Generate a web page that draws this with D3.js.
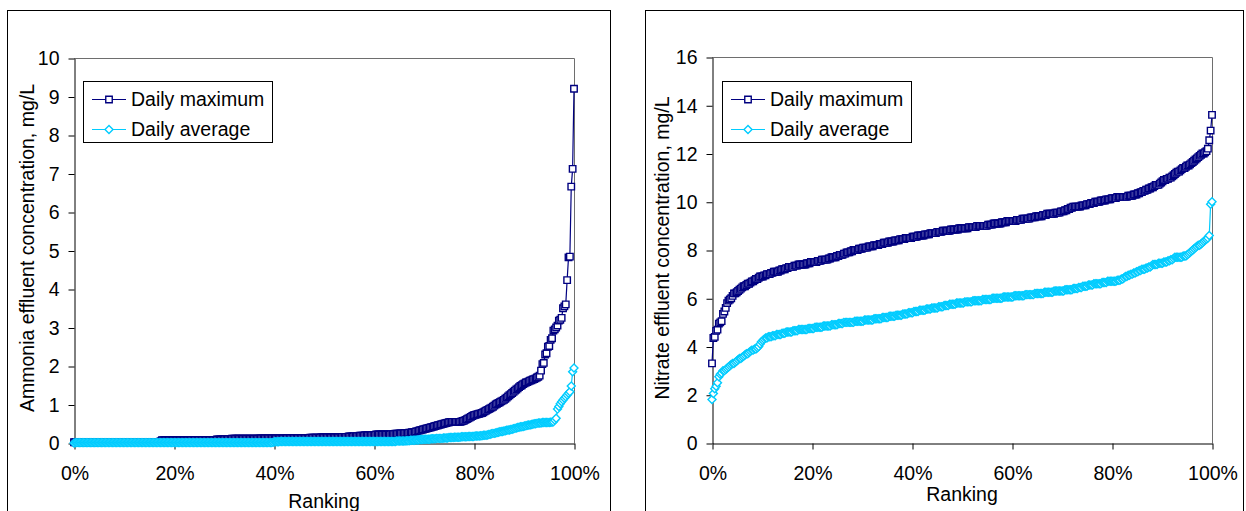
<!DOCTYPE html>
<html>
<head>
<meta charset="utf-8">
<script src="https://cdn.jsdelivr.net/npm/d3@7"></script>
<style>
  body { margin: 0; background: #fff; }
  svg { display: block; }
  text { font-family: "Liberation Sans", Arial, Helvetica, sans-serif; fill: #000; }
</style>
</head>
<body>
<svg id="chart" width="1246" height="511"></svg>
<script>
// Daily values sorted ascending (one per day, 365 days); ranking = position / (n - 1)
const ammoniaMax = [
  0.02,0.02,0.02,0.02,0.02,0.02,0.02,0.02,0.02,0.02,
  0.02,0.02,0.02,0.02,0.02,0.02,0.02,0.02,0.02,0.02,
  0.03,0.03,0.03,0.03,0.03,0.03,0.03,0.03,0.03,0.03,
  0.03,0.03,0.03,0.03,0.03,0.03,0.03,0.03,0.03,0.03,
  0.03,0.03,0.03,0.03,0.03,0.03,0.03,0.03,0.03,0.03,
  0.03,0.03,0.03,0.03,0.03,0.03,0.03,0.03,0.03,0.03,
  0.03,0.03,0.03,0.05,0.07,0.07,0.07,0.07,0.07,0.07,
  0.07,0.07,0.07,0.07,0.07,0.07,0.07,0.07,0.07,0.07,
  0.07,0.07,0.07,0.07,0.07,0.08,0.08,0.08,0.08,0.08,
  0.08,0.08,0.08,0.08,0.08,0.08,0.08,0.08,0.08,0.08,
  0.08,0.08,0.08,0.08,0.09,0.09,0.09,0.09,0.09,0.09,
  0.10,0.10,0.10,0.10,0.10,0.11,0.11,0.11,0.11,0.11,
  0.11,0.11,0.11,0.11,0.11,0.11,0.11,0.11,0.11,0.11,
  0.11,0.11,0.11,0.11,0.11,0.12,0.12,0.12,0.12,0.12,
  0.12,0.12,0.12,0.12,0.12,0.12,0.12,0.12,0.12,0.12,
  0.12,0.12,0.12,0.12,0.12,0.13,0.13,0.13,0.13,0.13,
  0.13,0.13,0.13,0.13,0.13,0.13,0.13,0.13,0.13,0.13,
  0.13,0.13,0.14,0.14,0.14,0.14,0.14,0.14,0.14,0.14,
  0.15,0.15,0.15,0.15,0.15,0.15,0.15,0.15,0.15,0.15,
  0.15,0.15,0.15,0.15,0.16,0.16,0.16,0.16,0.16,0.16,
  0.17,0.17,0.17,0.17,0.18,0.18,0.18,0.18,0.19,0.19,
  0.19,0.19,0.20,0.20,0.20,0.20,0.20,0.21,0.21,0.21,
  0.22,0.22,0.22,0.22,0.22,0.22,0.22,0.22,0.22,0.22,
  0.22,0.23,0.23,0.23,0.24,0.24,0.24,0.25,0.25,0.25,
  0.25,0.26,0.26,0.26,0.27,0.27,0.28,0.28,0.29,0.30,
  0.31,0.32,0.33,0.34,0.35,0.36,0.37,0.38,0.39,0.40,
  0.41,0.42,0.43,0.44,0.45,0.46,0.47,0.48,0.49,0.50,
  0.51,0.52,0.53,0.54,0.55,0.55,0.55,0.55,0.55,0.55,
  0.55,0.55,0.56,0.57,0.58,0.60,0.62,0.64,0.66,0.68,
  0.70,0.72,0.73,0.74,0.75,0.76,0.77,0.78,0.80,0.82,
  0.84,0.86,0.88,0.90,0.92,0.94,0.97,1.00,1.02,1.04,
  1.06,1.08,1.10,1.12,1.15,1.18,1.21,1.24,1.27,1.30,
  1.33,1.36,1.39,1.42,1.45,1.48,1.50,1.53,1.55,1.57,
  1.58,1.60,1.62,1.63,1.65,1.66,1.68,1.70,1.72,1.75,
  1.88,2.05,2.08,2.30,2.33,2.50,2.52,2.68,2.72,2.92,
  2.95,3.00,3.05,3.18,3.20,3.25,3.50,3.55,3.60,4.23,
  4.82,4.84,6.66,7.12,9.20
];

const ammoniaAvg = [
  0.00,0.01,0.01,0.01,0.01,0.01,0.01,0.01,0.01,0.01,
  0.01,0.01,0.01,0.01,0.01,0.01,0.01,0.01,0.01,0.01,
  0.01,0.01,0.01,0.01,0.01,0.01,0.01,0.01,0.01,0.01,
  0.01,0.01,0.01,0.01,0.01,0.01,0.01,0.01,0.01,0.01,
  0.01,0.01,0.01,0.01,0.01,0.01,0.01,0.01,0.01,0.01,
  0.01,0.01,0.01,0.01,0.01,0.01,0.01,0.01,0.01,0.01,
  0.01,0.01,0.01,0.01,0.01,0.01,0.01,0.01,0.01,0.01,
  0.01,0.01,0.01,0.01,0.01,0.01,0.01,0.01,0.01,0.01,
  0.01,0.01,0.01,0.01,0.01,0.01,0.01,0.01,0.01,0.01,
  0.01,0.01,0.01,0.01,0.01,0.01,0.01,0.01,0.01,0.01,
  0.01,0.01,0.01,0.01,0.01,0.01,0.01,0.01,0.01,0.01,
  0.01,0.01,0.01,0.01,0.01,0.01,0.01,0.01,0.01,0.01,
  0.01,0.01,0.01,0.01,0.01,0.01,0.01,0.01,0.01,0.01,
  0.01,0.01,0.01,0.01,0.01,0.01,0.01,0.01,0.01,0.01,
  0.01,0.01,0.01,0.01,0.01,0.02,0.03,0.03,0.03,0.03,
  0.04,0.04,0.04,0.04,0.04,0.04,0.04,0.04,0.04,0.04,
  0.04,0.04,0.04,0.04,0.04,0.04,0.04,0.04,0.04,0.04,
  0.04,0.04,0.04,0.04,0.04,0.04,0.04,0.04,0.04,0.04,
  0.04,0.04,0.04,0.04,0.04,0.04,0.04,0.04,0.04,0.04,
  0.04,0.04,0.04,0.04,0.04,0.04,0.04,0.04,0.04,0.04,
  0.04,0.04,0.04,0.04,0.04,0.04,0.04,0.04,0.04,0.04,
  0.04,0.04,0.04,0.04,0.04,0.04,0.04,0.04,0.04,0.04,
  0.04,0.04,0.04,0.04,0.04,0.04,0.04,0.04,0.04,0.04,
  0.04,0.04,0.04,0.04,0.04,0.05,0.05,0.05,0.05,0.05,
  0.05,0.05,0.06,0.06,0.06,0.07,0.07,0.07,0.07,0.08,
  0.08,0.08,0.09,0.09,0.09,0.10,0.10,0.10,0.10,0.10,
  0.11,0.11,0.11,0.11,0.12,0.12,0.12,0.12,0.12,0.13,
  0.13,0.13,0.13,0.14,0.14,0.14,0.14,0.15,0.15,0.15,
  0.15,0.15,0.16,0.16,0.16,0.16,0.16,0.17,0.17,0.17,
  0.17,0.17,0.18,0.18,0.18,0.18,0.19,0.19,0.20,0.20,
  0.20,0.21,0.22,0.23,0.24,0.25,0.25,0.26,0.27,0.28,
  0.29,0.30,0.30,0.31,0.32,0.33,0.34,0.34,0.35,0.36,
  0.37,0.38,0.39,0.40,0.41,0.42,0.42,0.43,0.44,0.45,
  0.46,0.47,0.47,0.48,0.49,0.50,0.50,0.51,0.52,0.52,
  0.52,0.53,0.53,0.53,0.53,0.53,0.53,0.54,0.54,0.55,
  0.60,0.64,0.88,0.95,1.02,1.07,1.12,1.16,1.20,1.25,
  1.29,1.33,1.48,1.85,1.95
];

const nitrateMax = [
  3.30,4.35,4.40,4.65,4.70,4.95,5.00,5.05,5.35,5.45,
  5.60,5.80,5.90,5.95,6.00,6.10,6.20,6.20,6.25,6.30,
  6.35,6.40,6.45,6.50,6.50,6.55,6.60,6.60,6.65,6.70,
  6.70,6.75,6.80,6.80,6.85,6.90,6.90,6.90,6.95,6.95,
  7.00,7.00,7.00,7.05,7.05,7.10,7.10,7.10,7.10,7.15,
  7.15,7.20,7.20,7.20,7.25,7.25,7.30,7.30,7.30,7.30,
  7.35,7.35,7.35,7.40,7.40,7.40,7.40,7.40,7.40,7.45,
  7.45,7.45,7.50,7.50,7.50,7.50,7.50,7.55,7.55,7.55,
  7.60,7.60,7.60,7.60,7.60,7.65,7.65,7.70,7.70,7.70,
  7.70,7.75,7.75,7.80,7.80,7.80,7.85,7.85,7.90,7.90,
  7.90,7.95,7.95,8.00,8.00,8.00,8.00,8.05,8.05,8.05,
  8.10,8.10,8.10,8.10,8.15,8.15,8.15,8.15,8.20,8.20,
  8.20,8.20,8.25,8.25,8.25,8.30,8.30,8.30,8.30,8.35,
  8.35,8.35,8.35,8.40,8.40,8.40,8.40,8.45,8.45,8.45,
  8.45,8.50,8.50,8.50,8.50,8.50,8.55,8.55,8.55,8.55,
  8.60,8.60,8.60,8.60,8.60,8.65,8.65,8.65,8.65,8.70,
  8.70,8.70,8.70,8.70,8.75,8.75,8.75,8.75,8.80,8.80,
  8.80,8.80,8.80,8.80,8.85,8.85,8.85,8.85,8.85,8.85,
  8.90,8.90,8.90,8.90,8.90,8.90,8.90,8.95,8.95,8.95,
  8.95,8.95,8.95,9.00,9.00,9.00,9.00,9.00,9.00,9.00,
  9.00,9.05,9.05,9.05,9.05,9.10,9.10,9.10,9.10,9.10,
  9.10,9.15,9.15,9.15,9.15,9.20,9.20,9.20,9.20,9.20,
  9.20,9.20,9.25,9.25,9.25,9.25,9.30,9.30,9.30,9.30,
  9.30,9.30,9.35,9.35,9.35,9.35,9.40,9.40,9.40,9.40,
  9.40,9.45,9.45,9.45,9.50,9.50,9.50,9.50,9.50,9.50,
  9.55,9.55,9.55,9.55,9.60,9.60,9.60,9.65,9.65,9.70,
  9.70,9.75,9.75,9.80,9.80,9.80,9.80,9.80,9.80,9.85,
  9.85,9.85,9.85,9.90,9.90,9.90,9.95,9.95,9.95,10.00,
  10.00,10.00,10.00,10.05,10.05,10.05,10.05,10.10,10.10,10.10,
  10.10,10.15,10.15,10.15,10.15,10.20,10.20,10.20,10.20,10.20,
  10.20,10.20,10.20,10.25,10.25,10.25,10.25,10.30,10.30,10.30,
  10.35,10.35,10.40,10.40,10.45,10.45,10.50,10.50,10.55,10.55,
  10.60,10.60,10.65,10.70,10.70,10.70,10.75,10.80,10.85,10.90,
  10.90,10.95,10.95,11.00,11.00,11.05,11.10,11.15,11.20,11.25,
  11.25,11.30,11.35,11.40,11.40,11.45,11.50,11.50,11.55,11.60,
  11.65,11.70,11.75,11.80,11.85,11.90,11.95,12.00,12.00,12.05,
  12.10,12.20,12.55,12.95,13.60
];

const nitrateAvg = [
  1.80,2.05,2.25,2.35,2.50,2.75,2.85,2.90,3.00,3.00,
  3.05,3.10,3.15,3.20,3.25,3.30,3.30,3.35,3.40,3.45,
  3.50,3.50,3.55,3.60,3.65,3.70,3.70,3.75,3.80,3.85,
  3.85,3.90,3.90,3.95,4.00,4.10,4.20,4.25,4.30,4.35,
  4.35,4.40,4.40,4.40,4.45,4.45,4.45,4.50,4.50,4.50,
  4.50,4.55,4.55,4.55,4.60,4.60,4.60,4.60,4.60,4.65,
  4.65,4.65,4.65,4.70,4.70,4.70,4.70,4.70,4.70,4.70,
  4.75,4.75,4.75,4.75,4.75,4.80,4.80,4.80,4.80,4.80,
  4.80,4.85,4.85,4.85,4.85,4.85,4.85,4.90,4.90,4.90,
  4.90,4.90,4.95,4.95,4.95,4.95,5.00,5.00,5.00,5.00,
  5.00,5.00,5.00,5.00,5.05,5.05,5.05,5.05,5.05,5.05,
  5.05,5.10,5.10,5.10,5.10,5.10,5.10,5.10,5.15,5.15,
  5.15,5.15,5.15,5.15,5.20,5.20,5.20,5.20,5.20,5.25,
  5.25,5.25,5.25,5.25,5.30,5.30,5.30,5.30,5.30,5.35,
  5.35,5.35,5.35,5.40,5.40,5.40,5.40,5.45,5.45,5.45,
  5.45,5.50,5.50,5.50,5.50,5.50,5.55,5.55,5.55,5.55,
  5.60,5.60,5.60,5.60,5.60,5.65,5.65,5.65,5.65,5.70,
  5.70,5.70,5.70,5.75,5.75,5.75,5.75,5.75,5.80,5.80,
  5.80,5.80,5.80,5.80,5.85,5.85,5.85,5.85,5.85,5.85,
  5.90,5.90,5.90,5.90,5.90,5.90,5.90,5.95,5.95,5.95,
  5.95,5.95,5.95,5.95,6.00,6.00,6.00,6.00,6.00,6.00,
  6.00,6.00,6.05,6.05,6.05,6.05,6.05,6.05,6.05,6.05,
  6.10,6.10,6.10,6.10,6.10,6.10,6.10,6.10,6.15,6.15,
  6.15,6.15,6.15,6.15,6.15,6.20,6.20,6.20,6.20,6.20,
  6.20,6.20,6.25,6.25,6.25,6.25,6.25,6.25,6.25,6.30,
  6.30,6.30,6.30,6.30,6.30,6.30,6.30,6.35,6.35,6.35,
  6.35,6.35,6.35,6.40,6.40,6.40,6.40,6.45,6.45,6.45,
  6.50,6.50,6.50,6.50,6.55,6.55,6.55,6.55,6.60,6.60,
  6.60,6.60,6.60,6.60,6.65,6.65,6.65,6.65,6.70,6.70,
  6.70,6.70,6.70,6.70,6.70,6.75,6.75,6.75,6.80,6.80,
  6.85,6.90,6.90,6.95,6.95,7.00,7.00,7.05,7.05,7.10,
  7.10,7.15,7.15,7.20,7.20,7.20,7.25,7.25,7.30,7.30,
  7.35,7.40,7.40,7.40,7.40,7.45,7.45,7.45,7.45,7.50,
  7.50,7.50,7.55,7.55,7.60,7.60,7.65,7.70,7.70,7.70,
  7.70,7.70,7.70,7.75,7.75,7.75,7.80,7.85,7.90,7.95,
  8.00,8.05,8.10,8.15,8.20,8.20,8.25,8.30,8.35,8.40,
  8.45,8.50,8.60,9.90,10.00
];

const seriesNames = ["Daily maximum", "Daily average"];
const rankTicks = [0, 0.2, 0.4, 0.6, 0.8, 1];
const ammoniaTicks = [0, 1, 2, 3, 4, 5, 6, 7, 8, 9, 10];
const nitrateTicks = [0, 2, 4, 6, 8, 10, 12, 14, 16];
const ammoniaTitle = "Ammonia effluent concentration, mg/L";
const nitrateTitle = "Nitrate effluent concentration, mg/L";
const xTitle = "Ranking";

const COLORS = ["#000080", "#00CCFF"];
const FONT = 19.5;

const svg = d3.select("#chart");

// square for the maximum, diamond (square turned 45°) for the average
const markerPath = [d3.symbol(d3.symbolSquare, 42)(), d3.symbol(d3.symbolSquare, 32)()];
const markerRotate = [0, 45];

function drawMarker(sel, k) {
  sel.append("path")
    .attr("d", markerPath[k])
    .attr("fill", "#fff")
    .attr("stroke", COLORS[k])
    .attr("stroke-width", 1.4);
}

function drawPanel(cfg) {
  const g = svg.append("g");

  // outer chart area border
  g.append("rect")
    .attr("x", cfg.frame[0] + 0.5).attr("y", cfg.frame[1] + 0.5)
    .attr("width", cfg.frame[2]).attr("height", cfg.frame[3])
    .attr("fill", "#fff").attr("stroke", "#000").attr("stroke-width", 1);

  const x = d3.scaleLinear().domain([0, 1]).range([cfg.left, cfg.right]);
  const y = d3.scaleLinear().domain([0, cfg.yMax]).range([cfg.bottom, cfg.top]);

  // plot area border (top and right)
  g.append("path")
    .attr("d", `M${cfg.left},${cfg.top + 0.5}H${cfg.right + 0.5}V${cfg.bottom}`)
    .attr("fill", "none").attr("stroke", "#6e6e6e").attr("stroke-width", 1);

  // y axis
  const yAxis = g.append("g")
    .attr("transform", `translate(${cfg.left + 0.5},0.5)`)
    .call(d3.axisLeft(y).tickValues(cfg.yTicks).tickFormat(d3.format("d"))
      .tickSize(6).tickSizeOuter(0).tickPadding(9));
  // x axis
  const xAxis = g.append("g")
    .attr("transform", `translate(0.5,${cfg.bottom + 0.5})`)
    .call(d3.axisBottom(x).tickValues(rankTicks).tickFormat(d3.format(".0%"))
      .tickSize(6).tickSizeOuter(0).tickPadding(17));
  [yAxis, xAxis].forEach(a => {
    a.attr("font-family", null).attr("font-size", null);
    a.selectAll("path, line").attr("stroke", "#000").attr("stroke-width", 1);
    a.selectAll("text").style("font-size", FONT + "px").attr("fill", "#000");
  });

  // axis titles
  g.append("text")
    .attr("transform", `translate(${cfg.yTitleX},${cfg.yTitleY}) rotate(-90)`)
    .attr("text-anchor", "middle").attr("dy", "0.35em")
    .style("font-size", FONT + "px")
    .text(cfg.yTitle);
  g.append("text")
    .attr("x", (cfg.left + cfg.right) / 2).attr("y", cfg.xTitleY)
    .attr("text-anchor", "middle")
    .style("font-size", FONT + "px")
    .text(xTitle);

  // series: connecting line, then one marker per day
  cfg.series.forEach((vals, k) => {
    const n = vals.length;
    g.append("path")
      .datum(vals)
      .attr("d", d3.line().x((d, i) => x(i / (n - 1))).y(d => y(d)))
      .attr("fill", "none").attr("stroke", COLORS[k]).attr("stroke-width", 1.2);
    g.append("g").selectAll("g")
      .data(vals)
      .join("g")
      .attr("transform", (d, i) => `translate(${x(i / (n - 1))},${y(d)}) rotate(${markerRotate[k]})`)
      .each(function () { drawMarker(d3.select(this), k); });
  });

  // legend
  const lg = g.append("g");
  const [lx, ly, lw, lh] = cfg.legend;
  lg.append("rect")
    .attr("x", lx + 0.5).attr("y", ly + 0.5).attr("width", lw).attr("height", lh)
    .attr("fill", "#fff").attr("stroke", "#000").attr("stroke-width", 1);
  seriesNames.forEach((name, k) => {
    const cy = ly + 18.5 + k * 30;
    lg.append("line")
      .attr("x1", lx + 9).attr("x2", lx + 43).attr("y1", cy).attr("y2", cy)
      .attr("stroke", COLORS[k]).attr("stroke-width", 1.2);
    const m = lg.append("g").attr("transform", `translate(${lx + 26},${cy}) rotate(${markerRotate[k]})`);
    drawMarker(m, k);
    lg.append("text")
      .attr("x", lx + 48).attr("y", cy).attr("dy", "0.35em")
      .style("font-size", FONT + "px")
      .text(name);
  });
}

drawPanel({
  frame: [7, 10, 603, 520],
  left: 74, right: 574, top: 58, bottom: 443,
  yMax: 10, yTicks: ammoniaTicks,
  yTitle: ammoniaTitle, yTitleX: 27, yTitleY: 248,
  xTitleY: 508,
  legend: [83, 81, 189, 61],
  series: [ammoniaMax, ammoniaAvg]
});

drawPanel({
  frame: [645, 10, 598, 520],
  left: 712, right: 1212, top: 57, bottom: 443,
  yMax: 16, yTicks: nitrateTicks,
  yTitle: nitrateTitle, yTitleX: 662, yTitleY: 248,
  xTitleY: 501,
  legend: [722, 81, 189, 61],
  series: [nitrateMax, nitrateAvg]
});
</script>
</body>
</html>
